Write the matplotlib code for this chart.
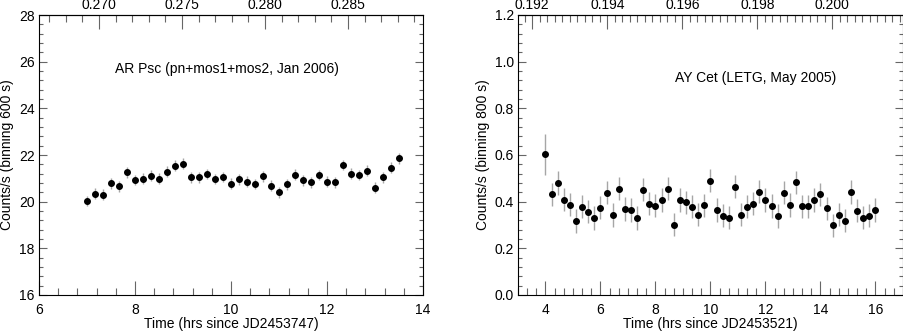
import numpy as np
import matplotlib
matplotlib.use("Agg")
import matplotlib.pyplot as plt
from matplotlib.ticker import MultipleLocator, FixedLocator, FormatStrFormatter

plt.rcParams['font.family'] = ['Liberation Sans', 'DejaVu Sans']
plt.rcParams['font.size'] = 10

# ---- Left panel: AR Psc ----
ar_time = 7.0 + np.arange(40) * (600.0 / 3600.0)
ar_rate = [20.03, 20.34, 20.30, 20.79, 20.66, 21.26, 20.93, 20.99, 21.11, 20.99,
           21.29, 21.54, 21.63, 21.05, 21.05, 21.19, 20.97, 21.06, 20.77, 20.96,
           20.86, 20.76, 21.09, 20.69, 20.40, 20.75, 21.16, 20.92, 20.83, 21.14,
           20.86, 20.83, 21.57, 21.20, 21.14, 21.32, 20.60, 21.05, 21.46, 21.86]
ar_err = [0.23] * 40
ar_label = "AR Psc (pn+mos1+mos2, Jan 2006)"
ar_xlabel = "Time (hrs since JD2453747)"
ar_ylabel = "Counts/s (binning 600 s)"
ar_period_hr = 345.8
ar_phase_ref = (7.25, 0.270)
ar_phase_ticks = [0.270, 0.275, 0.280, 0.285]

# ---- Right panel: AY Cet ----
ay_time = 4.0 + np.arange(55) * (800.0 / 3600.0)
ay_rate = [0.604, 0.431, 0.480, 0.408, 0.387, 0.317, 0.378, 0.357, 0.330, 0.375,
           0.439, 0.343, 0.456, 0.368, 0.365, 0.330, 0.452, 0.392, 0.383, 0.407,
           0.456, 0.301, 0.407, 0.397, 0.378, 0.344, 0.385, 0.490, 0.365, 0.340,
           0.331, 0.464, 0.345, 0.379, 0.392, 0.443, 0.407, 0.382, 0.338, 0.439,
           0.386, 0.483, 0.380, 0.380, 0.407, 0.431, 0.372, 0.299, 0.345, 0.319,
           0.442, 0.362, 0.331, 0.340, 0.365]
ay_err = [0.088] + [0.05] * 54
ay_label = "AY Cet (LETG, May 2005)"
ay_xlabel = "Time (hrs since JD2453521)"
ay_ylabel = "Counts/s (binning 800 s)"
ay_period_hr = 1363.6
ay_phase_ref = (3.52, 0.192)
ay_phase_ticks = [0.192, 0.194, 0.196, 0.198, 0.200]

W, H = 904, 333
fig = plt.figure(figsize=(W / 100, H / 100), dpi=100)

def px_axes(l, r, t, b):
    return fig.add_axes([l / W, 1 - b / H, (r - l) / W, (b - t) / H])

ax1 = px_axes(39, 423, 15, 295)
ax2 = px_axes(518, 903, 15, 295)

def style(ax, xmaj, xmin, ymaj, ymin, fmt_y):
    for s in ax.spines.values():
        s.set_color('black')
        s.set_linewidth(0.8)
    ax.xaxis.set_major_locator(MultipleLocator(xmaj))
    ax.xaxis.set_minor_locator(MultipleLocator(xmin))
    ax.yaxis.set_major_locator(MultipleLocator(ymaj))
    ax.yaxis.set_minor_locator(MultipleLocator(ymin))
    ax.yaxis.set_major_formatter(FormatStrFormatter(fmt_y))
    ax.tick_params(axis='x', which='both', direction='in', top=False, bottom=True,
                   color='0.4', width=0.8, pad=5.5)
    ax.tick_params(axis='x', which='major', length=10)
    ax.tick_params(axis='x', which='minor', length=5)
    ax.tick_params(axis='y', which='both', direction='in', left=True, right=True,
                   color='0.4', width=0.8, pad=3)
    ax.tick_params(axis='y', which='major', length=5.8)
    ax.tick_params(axis='y', which='minor', length=2.9)

def top_axis(ax, ref, period, ticks, mn, fmt):
    t0, p0 = ref
    f = lambda t: p0 + (np.asarray(t) - t0) / period
    finv = lambda p: t0 + (np.asarray(p) - p0) * period
    sec = ax.secondary_xaxis('top', functions=(f, finv))
    sec.xaxis.set_major_locator(FixedLocator(ticks))
    lo, hi = f(np.array(ax.get_xlim()))
    minors = np.arange(np.ceil(lo / mn - 1e-6), np.floor(hi / mn + 1e-6) + 1) * mn
    sec.xaxis.set_minor_locator(FixedLocator(minors))
    sec.xaxis.set_major_formatter(FormatStrFormatter(fmt))
    sec.tick_params(which='both', direction='in', color='0.4', width=0.8, pad=2)
    sec.tick_params(which='major', length=10)
    sec.tick_params(which='minor', length=5)
    sec.spines['top'].set_linewidth(0.8)
    return sec

# Left
ax1.errorbar(ar_time, ar_rate, yerr=ar_err, fmt='o', color='black', ms=4,
             ecolor='0.65', elinewidth=1, capsize=0)
ax1.set_xlim(6, 14)
ax1.set_ylim(16, 28)
style(ax1, 2, 0.4, 2, 0.4, '%d')
top_axis(ax1, ar_phase_ref, ar_period_hr, ar_phase_ticks, 0.001, '%.3f')
ax1.text(7.58, 25.68, ar_label, ha='left', va='center')
ax1.set_xlabel(ar_xlabel)
ax1.set_ylabel(ar_ylabel)
ax1.xaxis.set_label_coords(0.5, -0.078)
ax1.yaxis.set_label_coords(-0.064, 0.5)

# Right
ax2.errorbar(ay_time, ay_rate, yerr=ay_err, fmt='o', color='black', ms=4,
             ecolor='0.65', elinewidth=1, capsize=0)
ax2.set_xlim(3, 17)
ax2.set_ylim(0, 1.2)
style(ax2, 2, 2 / 6, 0.2, 0.04, '%.1f')
top_axis(ax2, ay_phase_ref, ay_period_hr, ay_phase_ticks, 0.0002, '%.3f')
ax2.text(8.71, 0.93, ay_label, ha='left', va='center')
ax2.set_xlabel(ay_xlabel)
ax2.set_ylabel(ay_ylabel)
ax2.xaxis.set_label_coords(0.5, -0.078)
ax2.yaxis.set_label_coords(-0.074, 0.5)

fig.savefig('out.png', dpi=100, facecolor='white')
